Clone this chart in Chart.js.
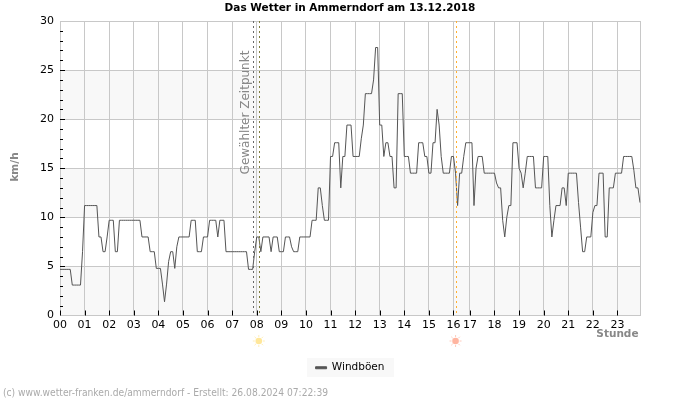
<!DOCTYPE html>
<html>
<head>
<meta charset="utf-8">
<title>Das Wetter in Ammerndorf</title>
<script src="https://cdn.jsdelivr.net/npm/chart.js@4"></script>
<style>
  html,body{margin:0;padding:0;background:#fff;}
  #wetter{display:block;}
</style>
</head>
<body>
<canvas id="wetter" width="700" height="400"></canvas>
<script>
// Stunden und Anzahl Messwerte pro Stunde (um 16 Uhr fehlen ein paar Werte)
const stunden=["00","01","02","03","04","05","06","07","08","09","10","11","12","13","14","15","16","17","18","19","20","21","22","23"];
const werteProStunde=[12,12,12,12,12,12,12,12,12,12,12,12,12,12,12,12,8,12,12,12,12,12,12,12];
const yTicks=[0,5,10,15,20,25,30];

// Windböen in km/h, eine Zeile je Stunde
const windboeen=[
  4.7,4.7,4.7,4.7,4.7,4.7,3.1,3.1,3.1,3.1,3.1,6.5,
  11.2,11.2,11.2,11.2,11.2,11.2,11.2,8,8,6.5,6.5,8,
  9.7,9.7,9.7,6.5,6.5,9.7,9.7,9.7,9.7,9.7,9.7,9.7,
  9.7,9.7,9.7,9.7,8,8,8,8,6.5,6.5,6.5,4.8,
  4.8,4.8,3.2,1.4,3.2,5.5,6.5,6.5,4.8,7,8,8,
  8,8,8,8,9.7,9.7,9.7,6.5,6.5,6.5,8,8,
  8,9.7,9.7,9.7,9.7,8,9.7,9.7,9.7,6.5,6.5,6.5,
  6.5,6.5,6.5,6.5,6.5,6.5,6.5,6.5,4.7,4.7,4.7,6.5,
  8,8,6.5,8,8,8,8,6.5,8,8,8,6.5,
  6.5,6.5,8,8,8,7,6.5,6.5,6.5,8,8,8,
  8,8,8,9.7,9.7,9.7,13,13,11.2,9.7,9.7,9.7,
  16.2,16.2,17.6,17.6,17.6,13,16.2,16.2,19.4,19.4,19.4,16.2,
  16.2,16.2,16.2,18,19.4,22.6,22.6,22.6,22.6,24,27.3,27.3,
  19.4,19.4,16.2,17.6,17.6,16.2,16.2,13,13,22.6,22.6,22.6,
  16.2,16.2,16.2,14.5,14.5,14.5,14.5,17.6,17.6,17.6,16.2,16.2,
  14.5,14.5,17.6,17.6,21,19.4,16.2,14.5,14.5,14.5,14.5,16.2,
  16.2,14.5,11.2,14.5,14.5,16.2,17.6,17.6,
  17.6,17.6,11.2,15,16.2,16.2,16.2,14.5,14.5,14.5,14.5,14.5,
  14.5,13.5,13,13,9.7,8,10,11.2,11.2,17.6,17.6,17.6,
  15,14.5,13,14.5,16.2,16.2,16.2,16.2,13,13,13,13,
  16.2,16.2,16.2,11.2,8,9.7,11.2,11.2,11.2,13,13,11.2,
  14.5,14.5,14.5,14.5,14.5,11.5,9,6.5,6.5,8,8,8,
  10.5,11.2,11.2,14.5,14.5,14.5,8,8,13,13,13,14.5,
  14.5,14.5,14.5,16.2,16.2,16.2,16.2,16.2,14.8,13,13,11.5
];

// Marker als Position auf der Messwert-Achse
const gewaehlterZeitpunkt=94;
const sonnenaufgang=97;
const sonnenuntergang=193;

// Kategorien: nur die erste Messung einer Stunde bekommt ein Label
let labels=[];
let stundenIndex=[];
stunden.forEach((s,i)=>{
  stundenIndex.push(labels.length);
  for(let k=0;k<werteProStunde[i];k++) labels.push(k==0?s:"");
});

function sonne(ctx,x,y,farbe){
  ctx.save();
  ctx.strokeStyle=farbe;
  ctx.fillStyle=farbe;
  ctx.lineWidth=1;
  ctx.globalAlpha=0.7;
  for(let i=0;i<8;i++){
    let w=i*Math.PI/4;
    ctx.beginPath();
    ctx.moveTo(x+Math.cos(w)*4,y+Math.sin(w)*4);
    ctx.lineTo(x+Math.cos(w)*6,y+Math.sin(w)*6);
    ctx.stroke();
  }
  ctx.globalAlpha=1;
  ctx.beginPath();
  ctx.arc(x,y,3.3,0,Math.PI*2);
  ctx.fill();
  ctx.restore();
}

function senkrecht(ctx,x,oben,unten,farbe){
  ctx.save();
  ctx.strokeStyle=farbe;
  ctx.setLineDash([2,3]);
  ctx.lineWidth=1;
  ctx.beginPath();
  ctx.moveTo(Math.round(x)+0.5,oben);
  ctx.lineTo(Math.round(x)+0.5,unten);
  ctx.stroke();
  ctx.restore();
}

const extras={
  id:"extras",
  // graue Bänder zwischen den Hauptlinien und Legendenhintergrund
  beforeDraw(chart){
    const {ctx,chartArea:a,scales:{y}}=chart;
    ctx.save();
    ctx.fillStyle="#f8f8f8";
    for(let v=0;v<30;v+=10){
      let o=y.getPixelForValue(v+5),u=y.getPixelForValue(v);
      ctx.fillRect(a.left,o,a.right-a.left,u-o);
    }
    ctx.fillRect(307,358,87,19);
    ctx.restore();
  },
  afterDatasetsDraw(chart){
    const {ctx,chartArea:a,scales:{x}}=chart;
    senkrecht(ctx,x.getPixelForValue(gewaehlterZeitpunkt),a.top,a.bottom,"#666666");
    senkrecht(ctx,x.getPixelForValue(sonnenaufgang),a.top,a.bottom,"#7d7d3a");
    senkrecht(ctx,x.getPixelForValue(sonnenuntergang),a.top,a.bottom,"#ffb030");
  },
  afterDraw(chart){
    const {ctx,chartArea:a,scales:{x,y}}=chart;
    ctx.save();
    // Striche innen an der Achse
    ctx.strokeStyle="#000";
    ctx.lineWidth=1;
    ctx.beginPath();
    for(let v=1;v<30;v++){
      let p=Math.round(y.getPixelForValue(v))+0.5;
      ctx.moveTo(a.left,p);
      ctx.lineTo(a.left+(v%5==0?5:3),p);
    }
    stundenIndex.forEach(i=>{
      let p=Math.round(x.getPixelForValue(i))+0.5;
      ctx.moveTo(p,a.bottom);
      ctx.lineTo(p,a.bottom-5);
    });
    ctx.stroke();

    // Texte
    ctx.textBaseline="middle";
    ctx.fillStyle="#888888";
    ctx.font="12px 'DejaVu Sans'";
    ctx.save();
    ctx.translate(246,112.5);
    ctx.rotate(-Math.PI/2);
    ctx.textAlign="center";
    ctx.fillText("Gewählter Zeitpunkt",0,0);
    ctx.restore();

    ctx.font="bold 10.5px 'DejaVu Sans'";
    ctx.save();
    ctx.translate(15,167);
    ctx.rotate(-Math.PI/2);
    ctx.textAlign="center";
    ctx.fillText("km/h",0,0);
    ctx.restore();

    ctx.textAlign="right";
    ctx.fillText("Stunde",638.5,334);

    ctx.textAlign="left";
    ctx.fillStyle="#aaaaaa";
    ctx.font="10.2px 'DejaVu Sans Condensed','DejaVu Sans'";
    ctx.fillText("(c) www.wetter-franken.de/ammerndorf - Erstellt: 26.08.2024 07:22:39",3,393);

    sonne(ctx,x.getPixelForValue(sonnenaufgang),341,"#ffe79a");
    sonne(ctx,x.getPixelForValue(sonnenuntergang),341,"#ffb5a0");
    ctx.restore();
  }
};

const ctx=document.getElementById("wetter").getContext("2d");

let myChart=new Chart(ctx,{
  type:"line",
  data:{
    labels:labels,
    datasets:[{
      label:"Windböen",
      data:windboeen,
      borderColor:"#555555",
      backgroundColor:"#555555",
      borderWidth:1,
      pointRadius:0,
      tension:0,
      fill:false
    }]
  },
  plugins:[extras],
  options:{
    responsive:false,
    animation:false,
    layout:{padding:{top:0,right:0,bottom:17,left:0}},
    font:{family:"'DejaVu Sans'"},
    scales:{
      x:{
        type:"category",
        offset:false,
        grid:{color:"#c8c8c8",drawTicks:false},
        border:{color:"#c8c8c8"},
        ticks:{color:"#000",font:{family:"'DejaVu Sans'",size:11},autoSkip:false,maxRotation:0,minRotation:0,padding:3},
        // nur die vollen Stunden plus rechter Rand
        afterBuildTicks:s=>{
          s.ticks=s.ticks.filter(t=>stundenIndex.includes(t.value)||t.value==labels.length-1);
        },
        afterFit:s=>{s.height=43;}
      },
      y:{
        min:0,
        max:30,
        afterBuildTicks:s=>{s.ticks=yTicks.map(v=>({value:v}));},
        grid:{color:"#c8c8c8",drawTicks:false},
        border:{color:"#c8c8c8"},
        ticks:{color:"#000",font:{family:"'DejaVu Sans'",size:11},padding:6},
        afterFit:s=>{s.width=60;}
      },
      // leere Achse rechts, damit Titel und Legende mittig auf dem Bild bleiben
      rand:{
        position:"right",
        min:0,
        max:30,
        grid:{drawOnChartArea:false,drawTicks:false},
        border:{display:false},
        ticks:{display:false},
        afterFit:s=>{s.width=60;}
      }
    },
    plugins:{
      tooltip:{enabled:false},
      title:{
        display:true,
        text:"Das Wetter in Ammerndorf am 13.12.2018",
        color:"#000",
        font:{family:"'DejaVu Sans'",size:10.5,weight:"bold",lineHeight:1},
        padding:{top:3,bottom:7.5}
      },
      legend:{
        position:"bottom",
        labels:{
          color:"#000",
          font:{family:"'DejaVu Sans'",size:10.5,lineHeight:1},
          boxWidth:11,
          boxHeight:2,
          padding:4
        }
      }
    }
  }
});
</script>
</body>
</html>
